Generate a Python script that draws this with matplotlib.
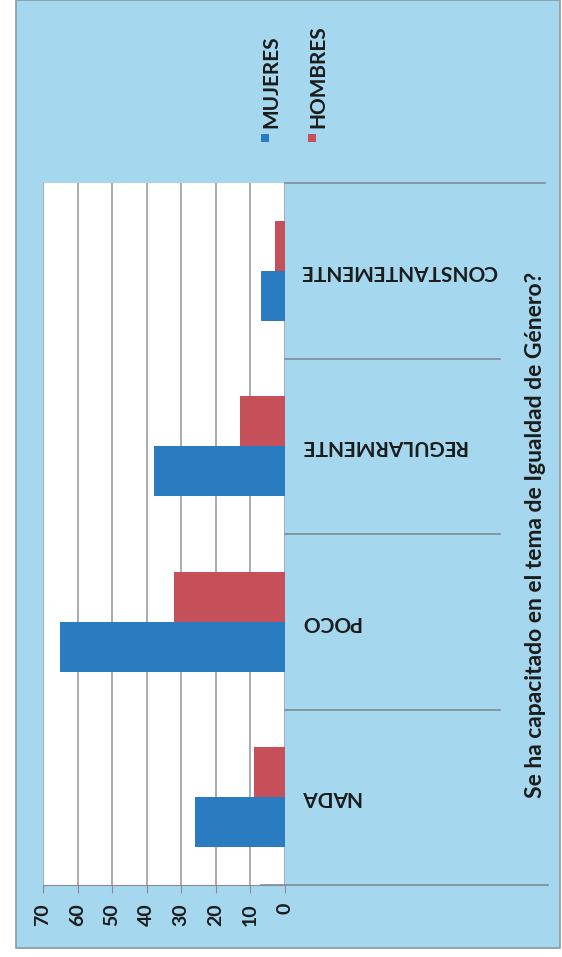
import numpy as np
import matplotlib.pyplot as plt
from matplotlib.patches import Rectangle

categorias = ['NADA', 'POCO', 'REGULARMENTE', 'CONSTANTEMENTE']
mujeres = [26, 65, 38, 7]
hombres = [9, 32, 13, 3]
ticks = [0, 10, 20, 30, 40, 50, 60, 70]
titulo = 'Se ha capacitado en el tema de Igualdad de Género?'

azul = '#2b7bc0'
rojo = '#c6505a'
fondo = '#a5d8ee'
texto = '#1b1b1b'
plt.rcParams['font.family'] = ['Lato', 'DejaVu Sans']

fig = plt.figure(figsize=(5.62, 9.57), dpi=100)
fig.patch.set_facecolor('white')

# chart area (scanned background)
fig.patches.append(Rectangle((16/562, 1 - 948/957), (560 - 16)/562, 948/957,
                             transform=fig.transFigure, facecolor=fondo,
                             edgecolor='#8a9aa5', lw=1.2, zorder=-5))

ax = fig.add_axes([43/562, 1 - 885/957, (285 - 43)/562, (885 - 183)/957])
ax.set_zorder(1)
ax.set_facecolor('white')

y = np.arange(len(categorias))
h = 0.285
ax.barh(y - h/2, mujeres, height=h, color=azul, zorder=3)
ax.barh(y + h/2, hombres, height=h, color=rojo, zorder=3)

ax.set_xlim(70, 0)
ax.set_ylim(-0.5, 3.5)
ax.set_xticks(ticks)
ax.set_xticklabels([str(t) for t in ticks], rotation=90, fontsize=14,
                   fontweight='bold', color=texto)
ax.tick_params(axis='x', length=6, color='#8a8a95', pad=7)
ax.set_yticks([])
ax.grid(axis='x', color='#a4a4ae', lw=1.3, zorder=1)
for s in ['top', 'right', 'left']:
    ax.spines[s].set_visible(False)
ax.spines['bottom'].set_color('#8a8a95')

# long category tick lines
for yy in [0.5, 1.5, 2.5]:
    ax.plot([1.0, 1.89], [yy, yy], transform=ax.get_yaxis_transform(),
            color='#7d8b96', lw=1.2, clip_on=False)
ax.plot([1.0, 2.075], [3.5, 3.5], transform=ax.get_yaxis_transform(),
        color='#7d8b96', lw=1.2, clip_on=False)
ax.plot([0.9, 2.085], [-0.5, -0.5], transform=ax.get_yaxis_transform(),
        color='#7d8b96', lw=1.2, clip_on=False)

# category labels
for yi, c in zip(y, categorias):
    ax.text((300 - 43)/242, yi, c, transform=ax.get_yaxis_transform(),
            rotation=180, ha='left', va='center', fontsize=15,
            fontweight='bold', color=texto)

# title
fig.text(535/562, 1 - 535/957, titulo, rotation=90, ha='center', va='center',
         fontsize=16.5, fontweight='bold', color=texto)

# legend
for lbl, col, xp in [('MUJERES', azul, 265), ('HOMBRES', rojo, 312)]:
    fig.patches.append(Rectangle(((xp - 4)/562, 1 - 142/957), 8/562, 8/957,
                                 transform=fig.transFigure, facecolor=col,
                                 edgecolor='none', zorder=2))
    fig.text((xp + 6)/562, 1 - 128/957, lbl, rotation=90, ha='center',
             va='bottom', fontsize=15, fontweight='bold', color=texto)

fig.savefig('out.png', dpi=100)
